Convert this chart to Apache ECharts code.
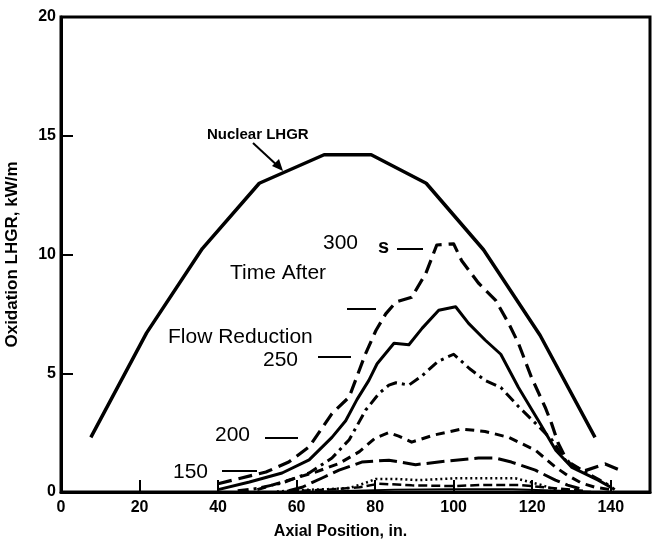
<!DOCTYPE html>
<html><head><meta charset="utf-8">
<script src="https://cdn.jsdelivr.net/npm/echarts@6/dist/echarts.min.js"></script>
<style>html,body{margin:0;padding:0;background:#fff}#c{width:655px;height:542px}</style>
</head><body><div id="c"></div>
<script>
// x ticks / y ticks
const xTicks = [0, 20, 40, 60, 80, 100, 120, 140];
const yTicks = [0, 5, 10, 15, 20];

// Nuclear LHGR (axial position, kW/m)
const nuclear = [[7.6,2.3],[21.8,6.7],[36,10.25],[50.5,13.0],[67,14.2],[79,14.2],[93,13.0],[107.6,10.2],[122,6.6],[136,2.3]];
// Oxidation LHGR curves for various times after flow reduction
const t300 = [[40,0.35],[43.7,0.5],[52.2,0.84],[58,1.26],[63.2,1.9],[69,3.3],[73.4,4.0],[75,4.7],[77.5,5.8],[80.2,6.8],[82.7,7.5],[85.3,8.0],[89.3,8.2],[92.9,9.2],[95.7,10.4],[100,10.45],[102,9.75],[106.3,8.8],[110.7,8.07],[114,7.1],[116.5,6.26],[119.8,4.83],[123.3,3.57],[124.9,2.9],[126.6,2.06],[128.4,1.47],[130,1.1],[133.5,0.9],[138.6,1.18],[142.4,0.92]];
const t250 = [[40,0.1],[48,0.42],[56.3,0.8],[63.2,1.35],[69,2.3],[72.5,3.0],[75.4,3.9],[78.4,4.7],[80.5,5.4],[84.8,6.26],[88.6,6.2],[92,6.9],[96.2,7.65],[100.5,7.8],[103.8,7.1],[108,6.4],[112,5.8],[116.5,4.4],[121.6,3.0],[126,1.76],[130,1.05],[136.8,0.5],[140,0.2]];
const t225 = [[45,0.05],[50,0.15],[56.3,0.38],[63.2,0.8],[69,1.43],[73.4,2.2],[77.6,3.45],[81,4.15],[83.5,4.5],[85.3,4.6],[88.6,4.5],[92,4.9],[96,5.5],[100,5.8],[104,5.2],[108,4.7],[112,4.4],[116.5,3.6],[120.8,2.9],[125,2.2],[128.4,1.35],[133.5,0.84],[138.6,0.38],[141,0.1]];
const t200 = [[50,0.1],[58,0.5],[65,0.85],[70.8,1.2],[76,1.7],[80,2.27],[83.5,2.5],[86,2.35],[89.3,2.1],[95,2.4],[102,2.65],[108,2.55],[114,2.3],[120.8,1.76],[125.9,1.05],[129,0.7],[132.5,0.38],[136,0.2],[140,0.1]];
const t175 = [[58,0.05],[61.4,0.2],[66.5,0.59],[70.8,0.92],[76.6,1.26],[83.5,1.34],[90.3,1.15],[98,1.3],[106.3,1.43],[110.6,1.43],[114.7,1.26],[120.8,0.92],[125.9,0.5],[129,0.29],[132,0.15]];
const t150 = [[55,0.02],[60.7,0.08],[68,0.12],[73.4,0.17],[77,0.35],[80.2,0.55],[85,0.55],[91,0.5],[100.5,0.58],[115.7,0.58],[122.3,0.3],[126,0.08]];
const t125 = [[58,0.03],[68,0.1],[76,0.2],[81,0.35],[89.3,0.28],[100,0.25],[108,0.3],[116.5,0.3],[125,0.17],[133,0.05]];
const t100 = [[65,0.01],[75,0.05],[85,0.1],[100,0.12],[115,0.12],[125,0.06],[135,0.01]];

// annotation texts
const labelTexts = ['Nuclear LHGR', 'Time After', 'Flow Reduction', '300', 's', '250', '200', '150'];

const chart = echarts.init(document.getElementById('c'));
const FONT = '"Liberation Sans", Arial, Helvetica, sans-serif';
function ser(name, data, width, type) {
  return {name, type: 'line', data, showSymbol: false, symbol: 'none', smooth: false,
    lineStyle: {color: '#000', width, type, cap: 'butt', join: 'round'}, z: 3, silent: true};
}
const txt = (t, x, y, size, weight, align) => ({type: 'text', x, y, style: {text: t, font: (weight||'normal') + ' ' + size + 'px ' + FONT, fill: '#000', textAlign: align||'left', textVerticalAlign: 'middle'}, z: 10});
const dash = (x1, y1, x2, y2) => ({type: 'line', shape: {x1, y1, x2, y2}, style: {stroke: '#000', lineWidth: 2}, z: 10});

chart.setOption({
  animation: false,
  backgroundColor: '#fff',
  grid: {left: 61, right: 5, top: 17, bottom: 50, containLabel: false, outerBoundsMode: 'none',
    show: true, borderColor: '#000', borderWidth: 3},
  xAxis: {type: 'value', min: 0, max: 150, interval: 20,
    axisLine: {lineStyle: {color: '#000', width: 3}},
    axisTick: {inside: true, length: 12, lineStyle: {color: '#000', width: 2}},
    axisLabel: {color: '#000', fontSize: 16, fontWeight: 'bold', fontFamily: FONT, margin: 8,
      formatter: v => xTicks.indexOf(v) >= 0 ? String(v) : ''},
    splitLine: {show: false},
    name: 'Axial Position, in.', nameLocation: 'middle', nameGap: 32,
    nameTextStyle: {color: '#000', fontSize: 16, fontWeight: 'bold', fontFamily: FONT, padding: [0, 30, 0, 0]}},
  yAxis: {type: 'value', min: 0, max: 20, interval: 5,
    axisLine: {lineStyle: {color: '#000', width: 3}},
    axisTick: {inside: true, length: 12, lineStyle: {color: '#000', width: 2}},
    axisLabel: {color: '#000', fontSize: 16, fontWeight: 'bold', fontFamily: FONT, margin: 5,
      formatter: v => yTicks.indexOf(v) >= 0 ? String(v) : ''},
    splitLine: {show: false},
    name: 'Oxidation LHGR, kW/m', nameLocation: 'middle', nameGap: 40,
    nameTextStyle: {color: '#000', fontSize: 17, fontWeight: 'bold', fontFamily: FONT}},
  series: [
    ser('Nuclear LHGR', nuclear, 3.5, 'solid'),
    ser('300 s', t300, 3.2, [14, 7]),
    ser('250 s', t250, 3, 'solid'),
    ser('225 s', t225, 3, [11, 5, 3, 5]),
    ser('200 s', t200, 3, [9, 6]),
    ser('175 s', t175, 3, [18, 6]),
    ser('150 s', t150, 2.5, [2, 3]),
    ser('125 s', t125, 2.5, [9, 4]),
    ser('100 s', t100, 2, 'solid')
  ],
  graphic: [
    txt(labelTexts[0], 207, 135, 15, 'bold'),
    {type: 'line', shape: {x1: 253, y1: 143, x2: 280, y2: 168}, style: {stroke: '#000', lineWidth: 2}, z: 10},
    {type: 'polygon', shape: {points: [[283, 171], [272, 166], [279, 159]]}, style: {fill: '#000'}, z: 10},
    txt(labelTexts[1], 230, 273, 21),
    txt(labelTexts[2], 168, 337, 21),
    txt(labelTexts[3], 323, 243, 21),
    txt(labelTexts[4], 378, 247, 20, 'bold'),
    dash(397, 249, 423, 249),
    dash(347, 309, 376, 309),
    txt(labelTexts[5], 263, 360, 21),
    dash(318, 357, 351, 357),
    txt(labelTexts[6], 215, 435, 21),
    dash(265, 438, 298, 438),
    txt(labelTexts[7], 173, 472, 21),
    dash(222, 471, 257, 471)
  ]
});
</script></body></html>
